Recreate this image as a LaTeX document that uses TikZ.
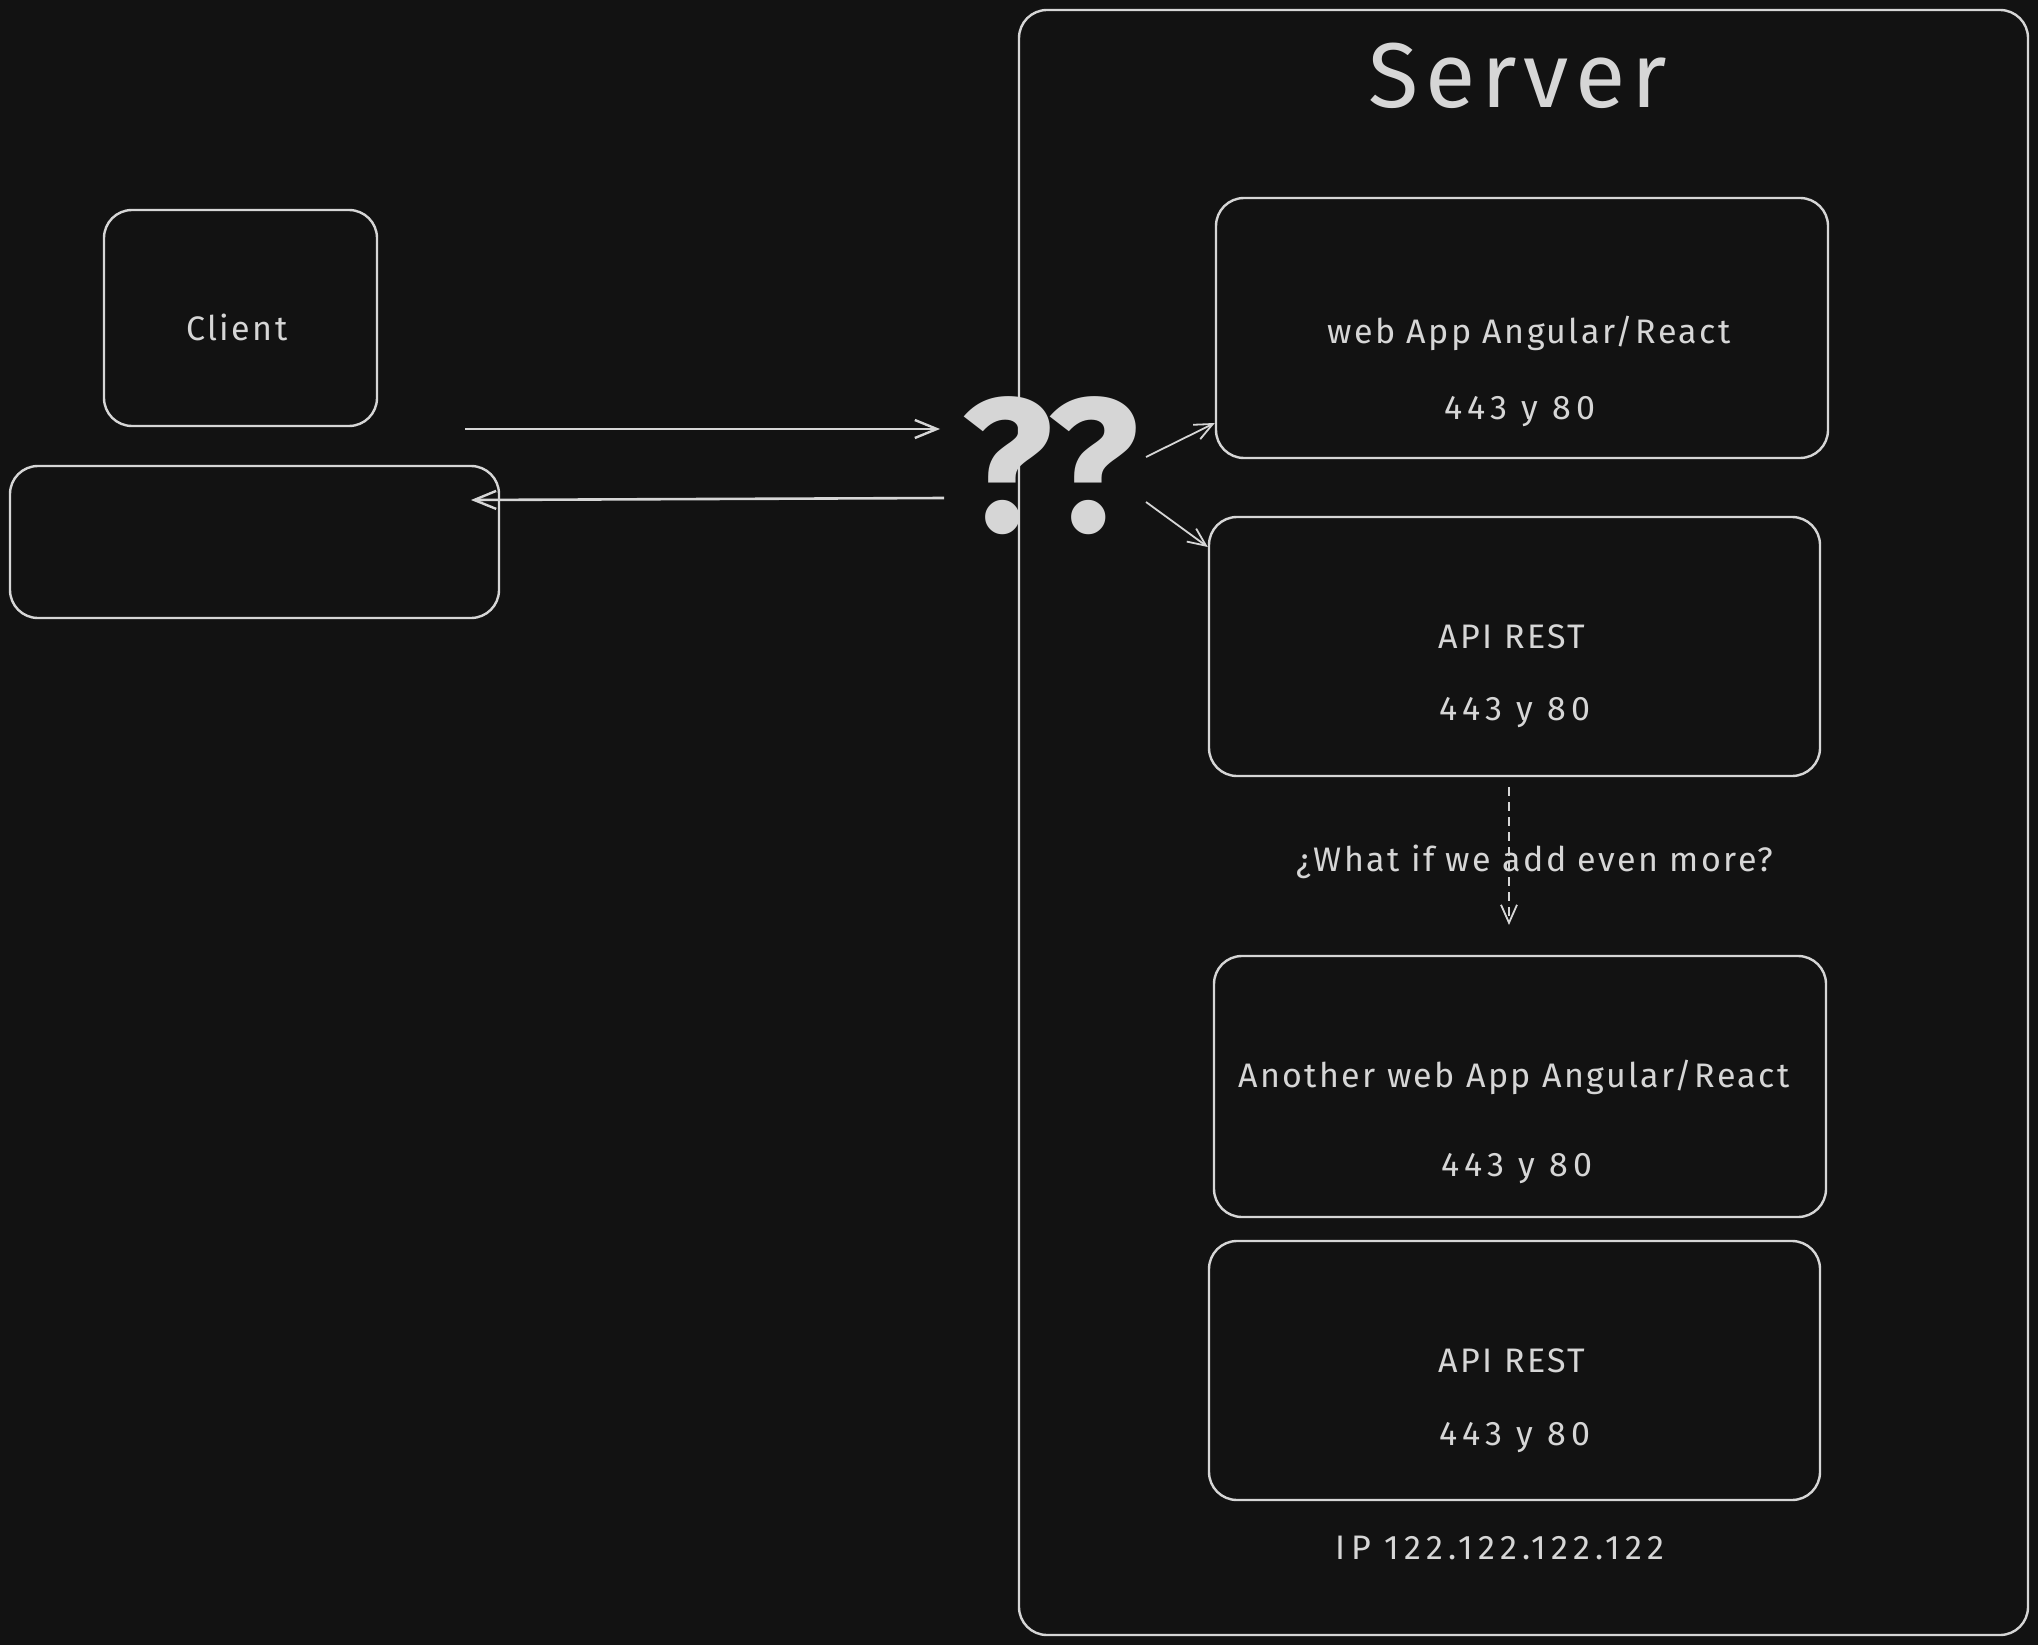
\documentclass[tikz,border=0pt]{standalone}
\usepackage{fontspec}
\setmainfont{Fira Sans}
\newfontfamily\handfont[LetterSpace=7]{Fira Sans}
\newfontfamily\numfont[LetterSpace=15]{Fira Sans}
\newfontfamily\titlefont[LetterSpace=7]{Fira Sans}
\usetikzlibrary{arrows.meta}
\definecolor{bgdark}{HTML}{121212}
\definecolor{ink}{HTML}{D6D6D6}
\begin{document}
\begin{tikzpicture}[x=1pt,y=-1pt,
  box/.style={draw=ink, line width=2.4pt, rounded corners=28pt, inner sep=0pt},
  lbl/.style={text=ink, font=\handfont\fontsize{34}{40}\selectfont, inner sep=0pt},
  num/.style={text=ink, font=\numfont\fontsize{34}{40}\selectfont, inner sep=0pt},
  arr/.style={draw=ink, line width=2.6pt, -{Straight Barb[length=22pt,width=18pt,line width=2.4pt]}},
  thinarr/.style={draw=ink, line width=1.8pt, -{Straight Barb[length=18pt,width=16pt,line width=1.8pt]}}]
  % canvas
  \useasboundingbox[fill=bgdark] (0,0) rectangle (2038,1645);

  % client machine: screen and keyboard base
  \node[box, minimum width=273pt, minimum height=216pt] (client) at (240.5,318) {};
  \node[lbl] (clientlbl) at (237,327) {Client};
  \node[box, minimum width=489pt, minimum height=152pt] (base) at (254.5,542) {};

  % question marks between client and server
  \node[text=ink, font=\bfseries\fontsize{190}{190}\selectfont, inner sep=0pt] (q) at (1050,466) {??};

  % server frame
  \node[box, minimum width=1009pt, minimum height=1625pt] (server) at (1523.5,822.5) {};
  \node[text=ink, font=\titlefont\fontsize{92}{92}\selectfont, inner sep=0pt] (srvtitle) at (1518,76) {Server};

  % services hosted on the server
  \node[box, minimum width=612pt, minimum height=260pt] (web1) at (1522,328) {};
  \node[lbl] (web1a) at (1529,333) {web App Angular/React};
  \node[num] (web1b) at (1520,412) {443 y 80};

  \node[box, minimum width=611pt, minimum height=259pt] (api1) at (1514.5,646.5) {};
  \node[lbl] (api1a) at (1512,637) {API REST};
  \node[num] (api1b) at (1515,713) {443 y 80};

  \node[box, minimum width=612pt, minimum height=261pt] (web2) at (1520,1086.5) {};
  \node[lbl] (web2a) at (1514,1077) {Another web App Angular/React};
  \node[num] (web2b) at (1517,1169) {443 y 80};

  \node[box, minimum width=611pt, minimum height=259pt] (api2) at (1514.5,1370.5) {};
  \node[lbl] (api2a) at (1512,1361) {API REST};
  \node[num] (api2b) at (1515,1438) {443 y 80};

  \node[num] (ip) at (1500,1548) {IP 122.122.122.122};

  % request / response between client and server
  \coordinate (reqstart) at (465,429);
  \coordinate (reqend) at (940,429);
  \coordinate (resstart) at (944,498);
  \coordinate (resend) at (471,500);
  \draw[arr] (reqstart) -- (reqend);
  \draw[arr] (resstart) -- (resend);

  % routing from the question marks to the services
  \coordinate (qa) at (1146,457);
  \coordinate (qb) at (1146,502);
  \draw[thinarr] (qa) -- (web1.west |- 0,423);
  \draw[thinarr] (qb) -- (api1.west |- 0,547);

  % scaling question
  \coordinate (moreA) at (1509,787);
  \coordinate (moreB) at (1509,925);
  \draw[thinarr, dash pattern=on 9pt off 6pt] (moreA) -- (moreB);
  \node[lbl] (more) at (1535,862) {¿What if we add even more?};
\end{tikzpicture}
\end{document}
